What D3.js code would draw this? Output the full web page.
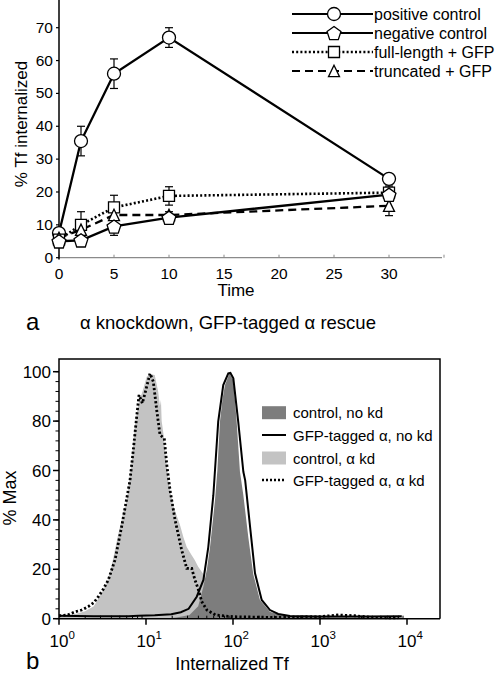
<!DOCTYPE html>
<html><head><meta charset="utf-8">
<script src="https://cdn.jsdelivr.net/npm/d3@7"></script>
<style>
html,body{margin:0;padding:0;background:#fff;}
svg{display:block;font-family:"Liberation Sans",Arial,Helvetica,sans-serif;}
</style></head>
<body>
<svg id="chart" width="495" height="674"></svg>
<script>
// ---------- Panel a data ----------
const times = [0, 2, 5, 10, 30];
const positiveCtrl = [7.5, 35.5, 56, 67, 24];
const positiveErr  = [1, 4.5, 4.5, 3, 1];
const negativeCtrl = [5, 5.3, 9.5, 12.2, 19.2];
const negativeErr  = [0.5, 0.5, 2.7, 1, 1];
const fullLength    = [5.5, 10, 15.3, 18.8, 19.8];
const fullLengthErr = [1, 4, 3.7, 2.8, 2];
const truncated    = [6, 8.5, 13, 13, 15.8];
const truncatedErr = [1, 2, 2.5, 1, 3];
const xTicksA = [0, 5, 10, 15, 20, 25, 30];
const yTicksA = [0, 10, 20, 30, 40, 50, 60, 70];
const legendA = ["positive control", "negative control", "full-length + GFP", "truncated + GFP"];

// ---------- Panel b data (log10 intensity, % max) ----------
const ctrlAlphaKdLog = [0,0.1,0.2,0.3,0.4,0.45,0.5,0.567,0.62,0.68,0.739,0.778,0.83,0.874,0.92,0.96,1.008,1.05,1.1,1.14,1.16,1.172,1.18,1.2,1.256,1.3,1.33,1.36,1.39,1.43,1.468,1.52,1.56,1.6,1.66,1.72,1.78,1.85,1.95,2.1,2.3];
const ctrlAlphaKdPct = [1.5,1.5,2,3,5,8,11,16,24,34,43,48,62,79,88,92,98,99,98.7,92,86,88.5,80,75,56,48,44,41,38,33,29,26,23.8,21,18,12,7,3.5,1.5,0.5,0];
const gfpAlphaKdLog = [0,0.1,0.184,0.26,0.337,0.4,0.452,0.51,0.567,0.644,0.72,0.77,0.816,0.854,0.893,0.92,0.958,0.989,1.046,1.084,1.123,1.161,1.21,1.24,1.276,1.333,1.41,1.468,1.525,1.563,1.6,1.64,1.7,1.8,2.0,2.5,3.0,3.2,3.4,3.6,3.9];
const gfpAlphaKdPct = [1.2,1.5,2.8,3.5,4.9,6.5,8.9,12,15.7,23.8,37.3,47,56,68.3,81.8,90.6,87.2,91.3,99.3,96,84.5,74.4,73,62,52.1,40.2,27.8,20.4,20.4,15.7,12,7,3.5,1.5,0.8,0.5,0.8,1.5,1.2,0.5,0.3];
const ctrlNoKdLog = [1.2,1.35,1.5,1.6,1.66,1.7,1.736,1.793,1.82,1.85,1.88,1.908,1.958,2.004,2.042,2.08,2.119,2.176,2.233,2.31,2.425,2.54,2.7,3.0,3.5,3.94,3.95];
const ctrlNoKdPct = [0,0.5,1.5,5,13,20,29,48,60,79.8,89,94.6,99.3,96.6,79.8,59.5,50,33,18,7.6,2.8,1.5,0.8,0.6,0.5,0.5,0];
const gfpNoKdLog = [0,0.4,0.8,0.91,1.1,1.29,1.4,1.49,1.583,1.66,1.716,1.774,1.83,1.888,1.946,1.97,2.004,2.06,2.119,2.14,2.2,2.253,2.33,2.425,2.52,2.655,3.0,3.5,3.94];
const gfpNoKdPct = [1.2,1,1,1.2,1.4,1.8,2.6,4,8.9,15.7,29,50,79.8,94.6,99.3,99.5,97.3,79.8,59.5,56,36,18.4,7.6,3.5,1.9,1.1,0.9,0.9,1];
const xTicksB = [1, 10, 100, 1000, 10000];
const xTickExpB = ["0", "1", "2", "3", "4"];
const yTicksB = [0, 20, 40, 60, 80, 100];
const legendB = ["control, no kd", "GFP-tagged \u03b1, no kd", "control, \u03b1 kd", "GFP-tagged \u03b1, \u03b1 kd"];

const svg = d3.select("#chart");

// ================= Panel a =================
const xA = d3.scaleLinear().domain([0, 30]).range([59, 389]);
const yA = d3.scaleLinear().domain([0, 70]).range([257.7, 27.7]);

svg.append("line").attr("x1", 59).attr("x2", 442).attr("y1", yA(0)).attr("y2", yA(0))
  .attr("stroke", "#8a8a8a").attr("stroke-width", 1.3);
svg.selectAll(".xtA").data(xTicksA.concat([35])).join("line")
  .attr("x1", d => xA(d)).attr("x2", d => xA(d)).attr("y1", yA(0)).attr("y2", yA(0) - 3)
  .attr("stroke", "#8a8a8a").attr("stroke-width", 1);
svg.selectAll(".xlA").data(xTicksA).join("text")
  .attr("x", d => xA(d)).attr("y", 279).attr("text-anchor", "middle")
  .attr("font-size", 15.5).text(d => d);
svg.append("text").attr("x", 236).attr("y", 296).attr("text-anchor", "middle")
  .attr("font-size", 17).text("Time");

svg.append("line").attr("x1", 59).attr("x2", 59).attr("y1", 0).attr("y2", 259.5)
  .attr("stroke", "#000").attr("stroke-width", 1.5);
svg.selectAll(".ytA").data(yTicksA).join("line")
  .attr("x1", 56).attr("x2", 59).attr("y1", d => yA(d)).attr("y2", d => yA(d))
  .attr("stroke", "#000").attr("stroke-width", 1.2);
svg.selectAll(".ylA").data(yTicksA).join("text")
  .attr("x", 53).attr("y", d => yA(d) + 5).attr("text-anchor", "end")
  .attr("font-size", 15.5).text(d => d);
svg.append("text").attr("transform", "translate(27,124) rotate(-90)")
  .attr("text-anchor", "middle").attr("font-size", 17).text("% Tf internalized");

function pentagon(r) {
  const pts = d3.range(5).map(i => {
    const a = -Math.PI / 2 + i * 2 * Math.PI / 5;
    return [r * Math.cos(a), r * Math.sin(a) + 0.8];
  });
  return "M" + pts.map(p => p.join(",")).join("L") + "Z";
}
function triangle(s) {
  const h = s * 0.85;
  return `M0,${-h/2 - 1}L${s/2},${h/2 + 1}L${-s/2},${h/2 + 1}Z`;
}
const markers = {
  circle: "M6.5,0A6.5,6.5 0 1,1 -6.5,0A6.5,6.5 0 1,1 6.5,0Z",
  pentagon: pentagon(7.3),
  square: "M-5.5,-5.5H5.5V5.5H-5.5Z",
  triangle: triangle(11)
};

const seriesA = [
  {name: legendA[0], vals: positiveCtrl, err: positiveErr, dash: null, marker: "circle"},
  {name: legendA[2], vals: fullLength, err: fullLengthErr, dash: "2,2.2", marker: "square"},
  {name: legendA[3], vals: truncated, err: truncatedErr, dash: "8,5", marker: "triangle"},
  {name: legendA[1], vals: negativeCtrl, err: negativeErr, dash: null, marker: "pentagon"}
];
const lineA = d3.line().x((d, i) => xA(times[i])).y(d => yA(d));
seriesA.forEach(s => {
  const g = svg.append("g");
  s.vals.forEach((v, i) => {
    const x = xA(times[i]);
    g.append("line").attr("x1", x).attr("x2", x).attr("y1", yA(v - s.err[i])).attr("y2", yA(v + s.err[i]))
      .attr("stroke", "#000").attr("stroke-width", 1.2);
    [v - s.err[i], v + s.err[i]].forEach(e => {
      g.append("line").attr("x1", x - 4).attr("x2", x + 4).attr("y1", yA(e)).attr("y2", yA(e))
        .attr("stroke", "#000").attr("stroke-width", 1.2);
    });
  });
});
seriesA.forEach(s => {
  svg.append("path").datum(s.vals).attr("d", lineA).attr("fill", "none")
    .attr("stroke", "#000").attr("stroke-width", s.dash === "2,2.2" ? 2.6 : 2.3)
    .attr("stroke-dasharray", s.dash);
});
seriesA.forEach(s => {
  svg.selectAll(null).data(s.vals).join("path")
    .attr("d", markers[s.marker])
    .attr("transform", (d, i) => `translate(${xA(times[i])},${yA(d)})`)
    .attr("fill", "#fff").attr("stroke", "#000").attr("stroke-width", 1.3);
});

const legARows = [
  {label: legendA[0], dash: null, marker: "circle"},
  {label: legendA[1], dash: null, marker: "pentagon"},
  {label: legendA[2], dash: "2,2.2", marker: "square"},
  {label: legendA[3], dash: "8,5", marker: "triangle"}
];
const legAY = [14, 33, 52, 71];
legARows.forEach((r, i) => {
  const y = legAY[i];
  svg.append("line").attr("x1", 292).attr("x2", 373).attr("y1", y).attr("y2", y)
    .attr("stroke", "#000").attr("stroke-width", r.dash === "2,2.2" ? 2.6 : 2.2).attr("stroke-dasharray", r.dash);
  svg.append("path").attr("d", markers[r.marker]).attr("transform", `translate(334,${y})`)
    .attr("fill", "#fff").attr("stroke", "#000").attr("stroke-width", 1.3);
  svg.append("text").attr("x", 374).attr("y", y + 5.5).attr("font-size", 16).text(r.label);
});

svg.append("text").attr("x", 26).attr("y", 330).attr("font-size", 24).text("a");
svg.append("text").attr("x", 80).attr("y", 329).attr("font-size", 18.5)
  .text("\u03b1 knockdown, GFP-tagged \u03b1 rescue");

// ================= Panel b =================
const xB = d3.scaleLog().domain([1, 10000]).range([59, 407]);
const yB = d3.scaleLinear().domain([0, 100]).range([618.7, 371.7]);
const xRightB = 440, yTopB = 359;

const toPts = (logs, pcts) => logs.map((l, i) => [Math.pow(10, l), pcts[i]]);
const area = d3.area().x(d => xB(d[0])).y0(yB(0)).y1(d => yB(d[1]));
const line = d3.line().x(d => xB(d[0])).y(d => yB(d[1]));

svg.append("path").datum(toPts(ctrlAlphaKdLog, ctrlAlphaKdPct)).attr("d", area).attr("fill", "#c3c3c3");
svg.append("path").datum(toPts(ctrlNoKdLog, ctrlNoKdPct)).attr("d", area).attr("fill", "#7d7d7d");
svg.append("path").datum(toPts(gfpNoKdLog, gfpNoKdPct)).attr("d", line).attr("fill", "none")
  .attr("stroke", "#000").attr("stroke-width", 2);
svg.append("path").datum(toPts(gfpAlphaKdLog, gfpAlphaKdPct)).attr("d", line).attr("fill", "none")
  .attr("stroke", "#000").attr("stroke-width", 2.8).attr("stroke-dasharray", "2.2,2.2");

svg.append("path").attr("d", `M59,${yB(0)}V${yTopB}H${xRightB}V${yB(0)}`)
  .attr("fill", "none").attr("stroke", "#000").attr("stroke-width", 1.5);
svg.append("line").attr("x1", 59).attr("x2", xRightB).attr("y1", yB(0)).attr("y2", yB(0))
  .attr("stroke", "#000").attr("stroke-width", 1.5);

svg.selectAll(".ymB").data(d3.range(0, 101, 4)).join("line")
  .attr("x1", 55.5).attr("x2", 59).attr("y1", d => yB(d)).attr("y2", d => yB(d))
  .attr("stroke", "#000").attr("stroke-width", 1);
svg.selectAll(".ytB").data(yTicksB).join("line")
  .attr("x1", 53).attr("x2", 59).attr("y1", d => yB(d)).attr("y2", d => yB(d))
  .attr("stroke", "#000").attr("stroke-width", 1.5);
svg.selectAll(".ylB").data(yTicksB).join("text")
  .attr("x", 51).attr("y", d => yB(d) + 6).attr("text-anchor", "end")
  .attr("font-size", 17).text(d => d);
svg.append("text").attr("transform", "translate(16,498) rotate(-90)")
  .attr("text-anchor", "middle").attr("font-size", 18).text("% Max");

const minorB = [];
[1, 10, 100, 1000].forEach(dec => { for (let k = 2; k <= 9; k++) minorB.push(dec * k); });
svg.selectAll(".xmB").data(minorB).join("line")
  .attr("x1", d => xB(d)).attr("x2", d => xB(d)).attr("y1", yB(0)).attr("y2", yB(0) - 3)
  .attr("stroke", "#000").attr("stroke-width", 1);
svg.selectAll(".xtB").data(xTicksB).join("line")
  .attr("x1", d => xB(d)).attr("x2", d => xB(d)).attr("y1", yB(0)).attr("y2", yB(0) + 6)
  .attr("stroke", "#000").attr("stroke-width", 1.5);
const xl = svg.selectAll(".xlB").data(xTicksB).join("text")
  .attr("x", d => xB(d) - 9.5).attr("y", 647).attr("font-size", 17);
xl.append("tspan").text("10");
xl.append("tspan").attr("dy", -8).attr("font-size", 11.5).text((d, i) => xTickExpB[i]);
svg.append("text").attr("x", 232).attr("y", 670).attr("text-anchor", "middle")
  .attr("font-size", 18).text("Internalized Tf");
svg.append("text").attr("x", 26).attr("y", 669).attr("font-size", 24).text("b");

const legBY = [412.7, 435, 458, 480];
svg.append("rect").attr("x", 262).attr("y", legBY[0] - 6.5).attr("width", 24).attr("height", 13).attr("fill", "#7d7d7d");
svg.append("line").attr("x1", 262).attr("x2", 286).attr("y1", legBY[1]).attr("y2", legBY[1])
  .attr("stroke", "#000").attr("stroke-width", 2);
svg.append("rect").attr("x", 262).attr("y", legBY[2] - 6.5).attr("width", 24).attr("height", 13).attr("fill", "#c3c3c3");
svg.append("line").attr("x1", 262).attr("x2", 286).attr("y1", legBY[3]).attr("y2", legBY[3])
  .attr("stroke", "#000").attr("stroke-width", 2.4).attr("stroke-dasharray", "2,2");
legendB.forEach((t, i) => {
  svg.append("text").attr("x", 293).attr("y", legBY[i] + 5.5).attr("font-size", 15).text(t);
});
</script>
</body></html>
